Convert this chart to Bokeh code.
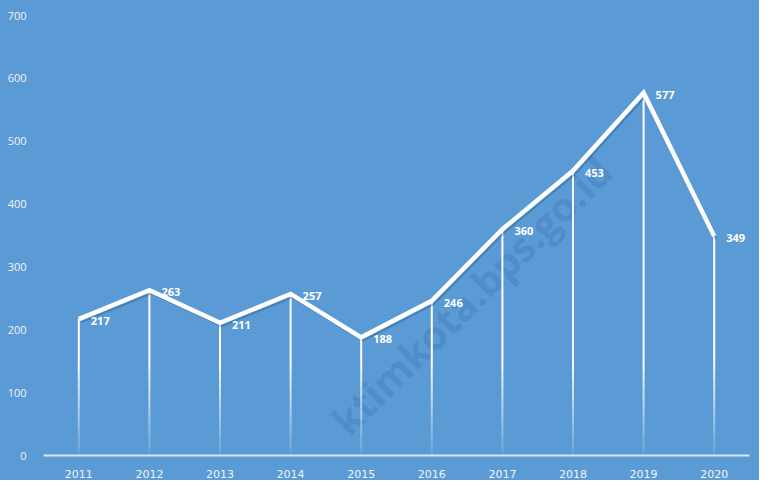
from bokeh.plotting import figure
from bokeh.models import ColumnDataSource, FactorRange, Range1d, FixedTicker, Label
from bokeh.transform import dodge
from bokeh.core.properties import value
from bokeh.embed import file_html
from bokeh.resources import INLINE

years = ["2011", "2012", "2013", "2014", "2015", "2016", "2017", "2018", "2019", "2020"]
counts = [217, 263, 211, 257, 188, 246, 360, 453, 577, 349]
y_ticks = [0, 100, 200, 300, 400, 500, 600, 700]

BG = "#5B9BD5"

p = figure(x_range=FactorRange(*years, range_padding=0), y_range=Range1d(0, 700),
           width=759, height=480, output_backend="svg", toolbar_location=None,
           background_fill_color=BG, background_fill_alpha=0,
           border_fill_color=BG, border_fill_alpha=0,
           outline_line_color=None,
           min_border_left=43, min_border_right=10, min_border_top=15, min_border_bottom=25)
p.styles = {"background-color": BG}

p.xgrid.visible = False
p.ygrid.visible = False

# axes
p.yaxis.ticker = FixedTicker(ticks=y_ticks)
p.yaxis.axis_line_color = None
p.yaxis.major_tick_line_color = None
p.yaxis.minor_tick_line_color = None
p.yaxis.major_label_text_color = "#F2F2F2"
p.yaxis.major_label_text_font = "Open Sans"
p.yaxis.major_label_text_font_size = "11px"
p.yaxis.major_label_standoff = 11

p.xaxis.axis_line_color = "#DCE6F0"
p.xaxis.axis_line_width = 2
p.xaxis.major_tick_line_color = None
p.xaxis.minor_tick_line_color = None
p.xaxis.major_label_text_color = "#F2F2F2"
p.xaxis.major_label_text_font = "DejaVu Sans"
p.xaxis.major_label_text_font_size = "11px"
p.xaxis.major_label_standoff = 8

# watermark
wm = Label(x=428, y=160, x_units="screen", y_units="screen", text="ktimkota.bps.go.id",
           angle=0.78, text_align="center", text_baseline="middle",
           text_font="Open Sans", text_font_style="bold", text_font_size="40px",
           text_color="#2E6BA8", text_alpha=0.3, level="underlay")
p.add_layout(wm)

src = ColumnDataSource(dict(x=years, y=counts, lab=[str(c) for c in counts]))

# drop lines: solid upper part, fading towards the axis
fade_top = 150
p.segment(x0="x", y0=fade_top, x1="x", y1="y", source=src, line_color="white",
          line_width=2)
steps = 14
for i in range(steps):
    lo = fade_top * i / steps
    hi = fade_top * (i + 1) / steps
    a = 0.08 + 0.92 * (i + 0.5) / steps
    p.segment(x0="x", y0=lo, x1="x", y1=hi, source=src, line_color="white",
              line_width=2, line_alpha=a)

# subtle shadow under the main line
p.line(x=dodge("x", 0.03, range=p.x_range), y=dodge("y", -5), source=src,
       line_color="#2F5F8F", line_alpha=0.45, line_width=2)

# main line
p.line(x="x", y="y", source=src, line_color="white", line_width=4.5,
       line_join="miter")

# data labels
p.text(x="x", y="y", text="lab", source=src, x_offset=12, y_offset=2,
       text_align="left", text_baseline="middle", text_color="white",
       text_font=value("Open Sans"), text_font_style="bold", text_font_size="11px")

open("out.html", "w").write(file_html(p, INLINE))
